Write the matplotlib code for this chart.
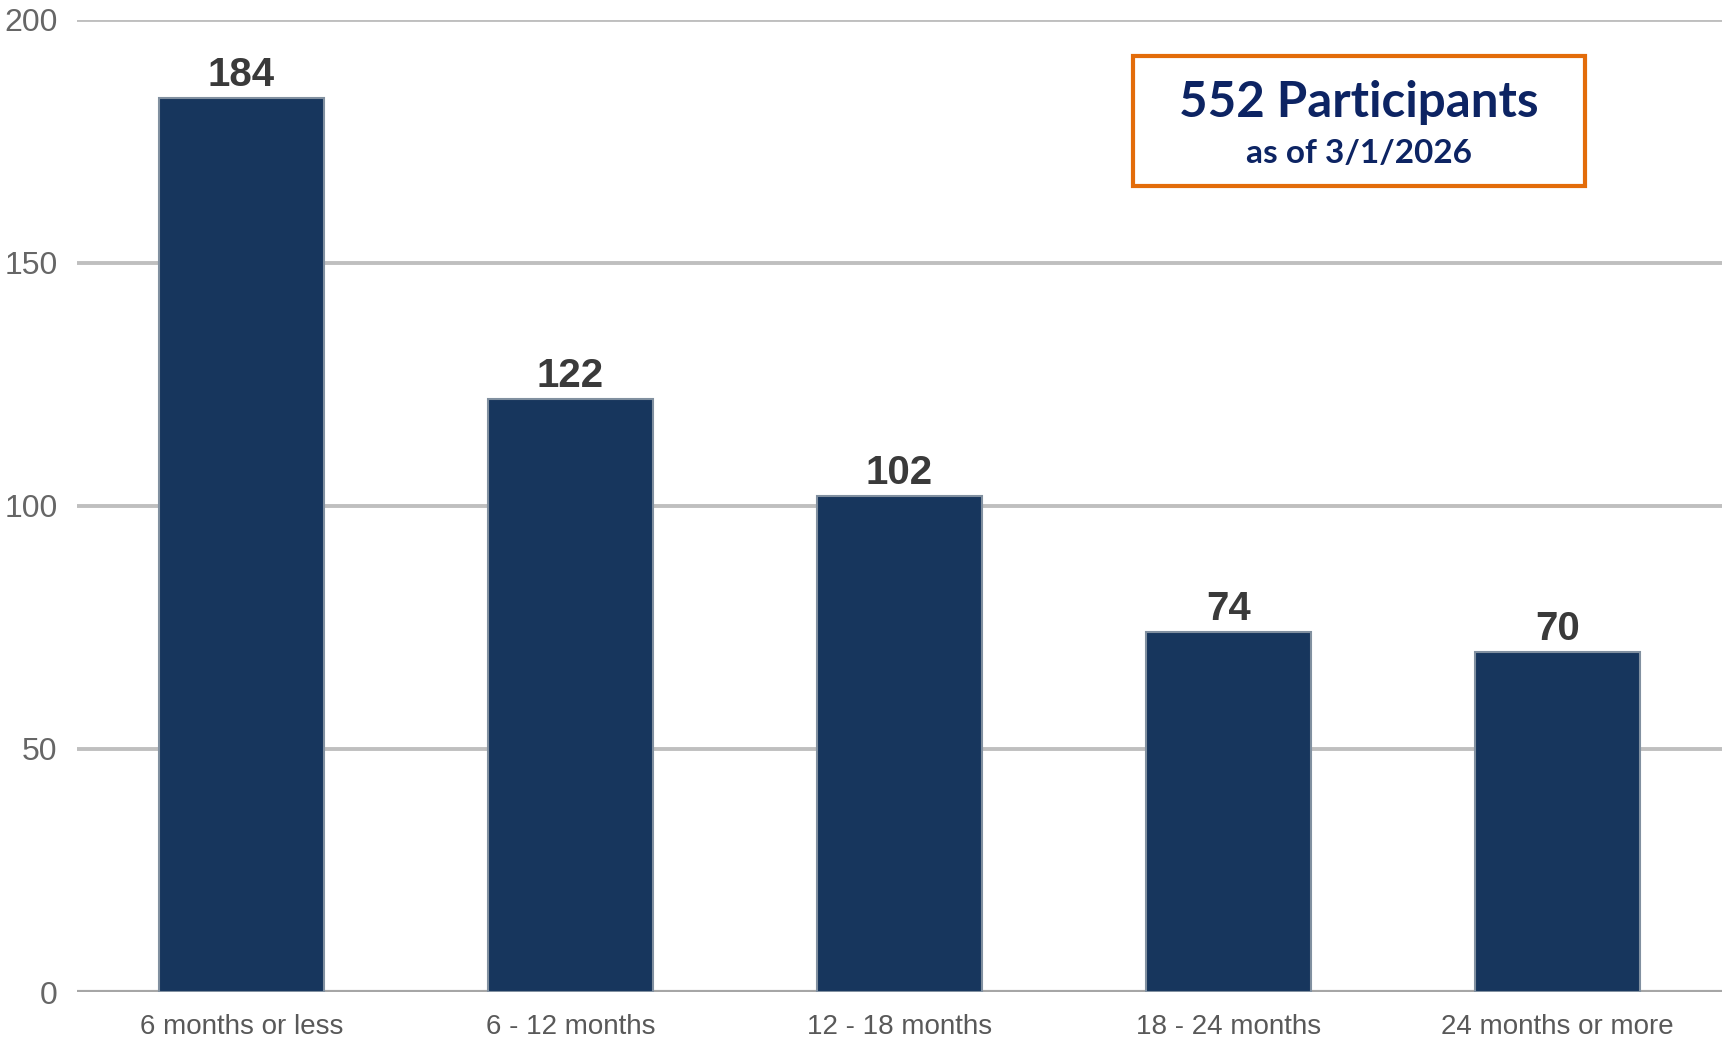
import matplotlib

matplotlib.use("Agg")
import matplotlib.pyplot as plt
from matplotlib.patches import Rectangle

# chart data
categories = ["6 months or less", "6 - 12 months", "12 - 18 months",
              "18 - 24 months", "24 months or more"]
counts = [184, 122, 102, 74, 70]
y_ticks = [0, 50, 100, 150, 200]
total_label = "552 Participants"
date_label = "as of 3/1/2026"

BAR = "#17365d"
GRID = "#bfbfbf"

plt.rcParams["font.family"] = ["Liberation Sans", "DejaVu Sans"]

fig = plt.figure(figsize=(17.27, 10.38), dpi=100)
ax = fig.add_axes([0.0446, 0.0443, 0.9524, 0.9367])

x = range(len(categories))
bars = ax.bar(x, counts, width=0.5, color=BAR, edgecolor="#8190a0", linewidth=1.5, zorder=3)

for b, v in zip(bars, counts):
    ax.text(b.get_x() + b.get_width() / 2, v + 0.8, str(v), ha="center", va="bottom",
            fontsize=29, fontweight="bold", color="#3a3a3a", zorder=4)

ax.set_xlim(-0.5, len(categories) - 0.5)
ax.set_ylim(0, 200)
ax.set_yticks(y_ticks)
ax.set_xticks(list(x))
ax.set_xticklabels(categories)
ax.yaxis.grid(True, color=GRID, linewidth=2.8, zorder=0)
ax.set_axisbelow(True)
for s in ax.spines.values():
    s.set_visible(False)
ax.axhline(0, color="#a6a6a6", linewidth=3, zorder=2)
ax.tick_params(axis="y", length=0, pad=14, labelsize=23, labelcolor="#666666")
ax.tick_params(axis="x", length=0, pad=16, labelsize=20, labelcolor="#595959")

# participants box
box_x, box_y, box_w, box_h = 1133 / 1727, 1 - 186 / 1038, 452 / 1727, 130 / 1038
fig.patches.append(Rectangle((box_x, box_y), box_w, box_h, transform=fig.transFigure,
                             facecolor="white", edgecolor="#e36c0a", linewidth=3, zorder=5))
fig.text(box_x + box_w / 2, box_y + box_h * 0.64, total_label, ha="center", va="center",
         fontsize=35.5, fontweight="bold", color="#0d2463", family=["Lato", "DejaVu Sans"], zorder=6)
fig.text(box_x + box_w / 2, box_y + box_h * 0.25, date_label, ha="center", va="center",
         fontsize=24, fontweight="bold", color="#0d2463", family=["Lato", "DejaVu Sans"], zorder=6)

fig.savefig("out.png", dpi=100)
